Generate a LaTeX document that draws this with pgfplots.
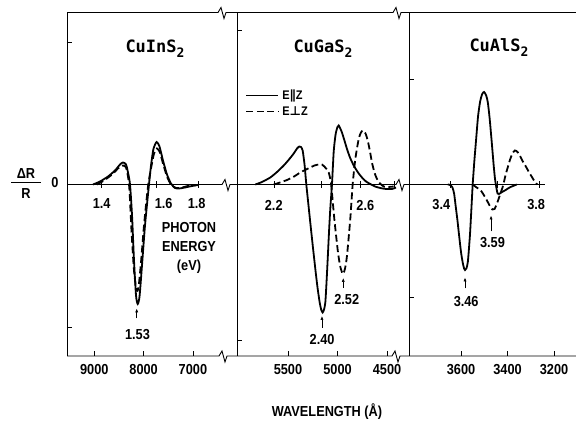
\documentclass[border=0pt]{standalone}
\usepackage{fontspec}
\setmainfont{Liberation Sans}[FakeStretch=0.88]
\newfontfamily\monob{DejaVu Sans Mono}
\newfontfamily\djv{DejaVu Sans}
\usepackage{pgfplots}
\pgfplotsset{compat=1.18}
\usetikzlibrary{arrows.meta}
\newcommand{\lf}{\fontsize{14.5}{16}\selectfont\bfseries}
\newcommand{\ttl}[2]{{\monob\bfseries\fontsize{17}{18}\selectfont #1\raisebox{-4.5pt}{\fontsize{13}{13}\selectfont #2}}}
\tikzset{
  lbl/.style={font=\lf, inner sep=0pt},
  arr/.style={-{Latex[length=4pt,width=3.2pt]}, line width=0.7pt},
  etk/.style={line width=0.8pt},
}
\begin{document}
\begin{tikzpicture}[x=1pt,y=1pt]
\useasboundingbox (0pt,0pt) rectangle (576pt,422pt);
\pgfplotsset{
  panel/.style={
    scale only axis, height=343.5pt, anchor=south,
    x dir=reverse, ymin=-171.5, ymax=172,
    axis line style={draw=none},
    xtick pos=left, ytick pos=left, tick align=inside,
    major tick length=5pt,
    tick style={black, line width=0.8pt},
    yticklabels={,,},
    xticklabel style={anchor=base, yshift=-18.5pt, font=\lf},
    clip=false,
  },
  sol/.style={black, line width=1.8pt, smooth, tension=0.4},
  das/.style={black, line width=1.8pt, dash pattern=on 7pt off 3.5pt, smooth, tension=0.4},
}
% ---------- CuInS2 ----------
\begin{axis}[panel, at={(152pt,66pt)}, width=170pt, xmin=6106, xmax=9554,
  xtick={9000,8000,7000}, xticklabels={9000,8000,7000}, ytick={142.5,-142.5}]
\addplot[sol] coordinates {(9026,0) (8884,3) (8722,8) (8580,14) (8479,20) (8418,22) (8357,20) (8317,12) (8276,0) (8235,-31) (8195,-76) (8154,-111) (8120,-119.5) (8083,-112) (8033,-81) (7972,-41) (7891,0) (7850,19) (7799,36) (7735,42.5) (7678,38) (7607,24) (7526,10) (7445,1) (7363,-3.5) (7282,-4) (7161,-3) (7019,-1.5) (6897,-0.5)};
\addplot[das] coordinates {(8945,0) (8803,4) (8641,10) (8499,17) (8418,19) (8357,17) (8317,8) (8286,-6) (8246,-46) (8195,-86) (8144,-106) (8104,-103) (8053,-78) (7992,-41) (7911,-2) (7850,16) (7789,31) (7729,36) (7668,32) (7607,21) (7526,8) (7445,0) (7343,-3.5) (7222,-3) (7059,-1) (6897,-0.5)};
\draw[etk] (axis cs:8856,-3.5) -- (axis cs:8856,3.5);
\draw[etk] (axis cs:7749,-3.5) -- (axis cs:7749,3.5);
\draw[etk] (axis cs:6888,-3.5) -- (axis cs:6888,3.5);
\node[lbl] at (axis cs:8850,-19.5) {1.4};
\node[lbl] at (axis cs:7593,-19.5) {1.6};
\node[lbl] at (axis cs:6923,-19.5) {1.8};
\draw[arr] (axis cs:8140,-134) -- (axis cs:8140,-124);
\node[lbl] at (axis cs:8125,-150.5) {1.53};
\end{axis}
% ---------- CuGaS2 ----------
\begin{axis}[panel, at={(323pt,66pt)}, width=172pt, xmin=4278, xmax=6015,
  xtick={5500,5000,4500}, xticklabels={5500,5000,4500}, ytick={154.5,-155.5}]
\addplot[sol] coordinates {(5830,0) (5763,2.5) (5679,7) (5611,12.5) (5543,19) (5490,25) (5442,31) (5409,36) (5386,38) (5369,37.5) (5352,34) (5333,20) (5315,0) (5295,-19) (5275,-38) (5248,-63) (5224,-84.5) (5202,-103) (5180,-118) (5165,-125) (5150,-128) (5136,-125) (5123,-118) (5111,-98) (5099,-74.5) (5086,-48) (5073,-24.5) (5056,0) (5039,32) (5026,45) (5016,52) (5000,57.5) (4988,59) (4972,56) (4955,52) (4930,44) (4904,35.5) (4874,27) (4836,19) (4793,12) (4753,7) (4712,3) (4669,0.5) (4621,-2) (4568,-3.5) (4510,-4.5) (4450,-4.5) (4409,-3)};
\addplot[das] coordinates {(5644,0) (5581,2) (5510,4.5) (5439,8) (5376,12) (5328,14.5) (5275,17) (5233,19) (5190,20) (5157,20) (5133,18) (5111,15.5) (5089,12) (5076,7) (5063,-1) (5032,-34.5) (4995,-68) (4970,-83) (4945,-89.5) (4924,-84) (4904,-71) (4871,-34.5) (4847,0) (4820,25.5) (4786,45.5) (4763,52) (4742,54) (4717,51) (4695,44) (4672,33) (4652,22) (4627,12) (4601,5.5) (4571,1) (4533,-2) (4490,-2.5) (4433,-2)};
\draw[etk] (axis cs:5635,-3.5) -- (axis cs:5635,3.5);
\draw[etk] (axis cs:5166,-3.5) -- (axis cs:5166,3.5);
\draw[etk] (axis cs:4768,-3.5) -- (axis cs:4768,3.5);
\draw[etk] (axis cs:4428,-3.5) -- (axis cs:4428,3.5);
\node[lbl] at (axis cs:5644,-21) {2.2};
\node[lbl] at (axis cs:4719,-21) {2.6};
\draw[arr] (axis cs:5157,-143.5) -- (axis cs:5157,-131.5);
\node[lbl] at (axis cs:5155,-155.5) {2.40};
\draw[arr] (axis cs:4942,-103.5) -- (axis cs:4942,-93.5);
\node[lbl] at (axis cs:4907,-115.5) {2.52};
% legend
\draw[black, line width=1.8pt] (axis cs:5920,89) -- (axis cs:5600,89);
\draw[black, line width=1.8pt, dash pattern=on 7pt off 3.5pt] (axis cs:5920,73) -- (axis cs:5600,73);
\node[font=\fontsize{12.5}{13}\selectfont\bfseries, anchor=west, inner sep=0pt] at (axis cs:5560,89) {E{\djv\bfseries ∥}Z};
\node[font=\fontsize{12.5}{13}\selectfont\bfseries, anchor=west, inner sep=0pt] at (axis cs:5560,73) {E{\djv\bfseries ⊥}Z};
\end{axis}
% ---------- CuAlS2 ----------
\begin{axis}[panel, at={(492.5pt,66pt)}, width=167pt, xmin=3105.5, xmax=3824,
  xtick={3600,3400,3200}, xticklabels={3600,3400,3200}, ytick={105.5,-113}]
\addplot[sol] coordinates {(3657,0) (3647,-0.5) (3637,-3) (3630,-9) (3624,-20) (3616,-35) (3607,-54) (3600,-68) (3593,-78) (3587,-84) (3583,-85.5) (3577,-84) (3571,-77.7) (3566,-64) (3561,-47.7) (3555,-22) (3550,0) (3543,23) (3535,45.7) (3527,68) (3518,83) (3509,90.5) (3501,92.5) (3492,89) (3485,82.3) (3477,66) (3468,42.3) (3460,20) (3454,5.7) (3448,-3.3) (3443,-9) (3437,-9.5) (3425,-7.7) (3408,-5.5) (3389,-2.7) (3360,0)};
\addplot[das] coordinates {(3551,0) (3533,-3) (3515,-6) (3501,-11) (3487,-16.7) (3475,-22) (3465,-25) (3456,-24.5) (3444,-18) (3432,-10) (3422,-3.3) (3415,3) (3408,10) (3398,18) (3389,25) (3379,31) (3368,34) (3357,32.5) (3346,28.3) (3333,22.5) (3322,18.3) (3307,12) (3293,6.7) (3282,2.5) (3272,0)};
\draw[etk] (axis cs:3646,-3.5) -- (axis cs:3646,3.5);
\draw[etk] (axis cs:3444,-3.5) -- (axis cs:3444,3.5);
\draw[etk] (axis cs:3263,-3.5) -- (axis cs:3263,3.5);
\node[lbl] at (axis cs:3685,-20) {3.4};
\node[lbl] at (axis cs:3277,-20) {3.8};
\draw[arr] (axis cs:3583,-104) -- (axis cs:3583,-93);
\node[lbl] at (axis cs:3578,-117) {3.46};
\draw[arr] (axis cs:3471,-47) -- (axis cs:3471,-31);
\node[lbl] at (axis cs:3465,-58) {3.59};
\end{axis}
% ---------- frame with breaks ----------
\begin{scope}[line width=0.9pt, black]
\draw (67,66) -- (67,409.5);
\draw (237,66) -- (237,409.5);
\draw (409,66) -- (409,409.5);
\draw (67,409.5) -- (218,409.5) -- (221,414.5) -- (224,403.5) -- (226,409.5) -- (393,409.5) -- (396,414.5) -- (399,403.5) -- (401,409.5) -- (576,409.5);
\draw (67,66) -- (219,66) -- (222,71) -- (225,60) -- (227,66) -- (392,66) -- (395,71) -- (398,60) -- (400,66) -- (576,66);
\draw (67,237.5) -- (222,237.5) -- (225,242.5) -- (228,231.5) -- (230,237.5) -- (237,237.5);
\draw (237,237.5) -- (396,237.5) -- (399,242.5) -- (402,231.5) -- (404,237.5) -- (409,237.5);
\draw (409,237.5) -- (545,237.5);
\end{scope}
% ---------- texts ----------
\node[anchor=base, inner sep=0pt] at (155,369) {\ttl{CuInS}{2}};
\node[anchor=base, inner sep=0pt] at (323,369) {\ttl{CuGaS}{2}};
\node[anchor=base, inner sep=0pt] at (499,370) {\ttl{CuAlS}{2}};
\node[lbl] at (26,248.7) {ΔR};
\node[lbl] at (26,228.7) {R};
\draw[line width=1.1pt] (11,239.7) -- (41,239.7);
\node[lbl] at (55,239.3) {0};
\node[lbl] at (189,194) {PHOTON};
\node[lbl] at (189,175) {ENERGY};
\node[lbl] at (189,155) {(eV)};
\node[lbl] at (327,10) {WAVELENGTH (Å)};
\end{tikzpicture}
\end{document}
